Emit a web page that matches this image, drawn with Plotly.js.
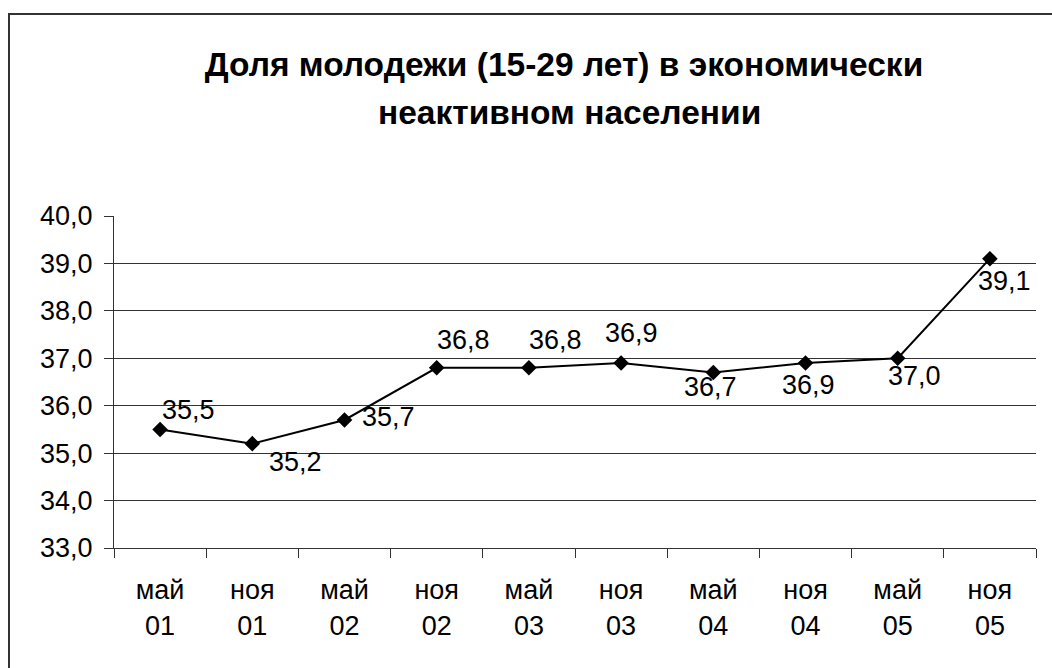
<!DOCTYPE html>
<html><head><meta charset="utf-8">
<script src="https://cdn.plot.ly/plotly-3.0.1.min.js"></script>
<style>
html,body{margin:0;padding:0;background:#fff;}
#wrap{position:relative;width:1052px;height:668px;overflow:hidden;}
#chart{width:1052px;height:668px;}
#frame{position:absolute;left:8px;top:13px;width:1200px;height:800px;border-left:2px solid #333;border-top:2px solid #333;pointer-events:none;}
</style></head>
<body><div id="wrap"><div id="chart"></div><div id="frame"></div></div>
<script>
var months = ["май","ноя","май","ноя","май","ноя","май","ноя","май","ноя"];
var years = ["01","01","02","02","03","03","04","04","05","05"];
var values = [35.5, 35.2, 35.7, 36.8, 36.8, 36.9, 36.7, 36.9, 37.0, 39.1];
var titleLine1 = "Доля молодежи (15-29 лет) в экономически";
var titleLine2 = "неактивном населении";

var categories = months.map(function(m,i){return m + "<br>" + years[i];});
var labels = values.map(function(v){return v.toFixed(1).replace(".", ",");});
// label offsets in pixels (styling only)
var labelDx = [28, 43, 44, 27, 27, 10, -3, 3, 17, 15];
var labelDy = [-18, 19, -2, -27, -27, -29, 15, 23, 19, 23];

var FONT = "Liberation Sans, Arial, sans-serif";
var trace = {
  type: "scatter",
  mode: "lines+markers",
  x: categories,
  y: values,
  line: {color: "#000", width: 2},
  marker: {symbol: "diamond", size: 12, color: "#000"},
  cliponaxis: false,
  hoverinfo: "skip"
};
var labelAnns = values.map(function(v, i){
  return {x: categories[i], y: v, xref: "x", yref: "y", text: labels[i], showarrow: false,
    xanchor: "center", yanchor: "middle", xshift: labelDx[i], yshift: -labelDy[i] + 1,
    font: {family: FONT, size: 27, color: "#000"}};
});
var layout = {
  width: 1052, height: 668,
  paper_bgcolor: "#fff", plot_bgcolor: "#fff",
  margin: {l: 114, r: 16, t: 216, b: 120},
  showlegend: false,
  separators: ", ",
  font: {family: FONT, size: 27, color: "#000"},
  title: {text: "<b>" + titleLine1 + "</b>", font: {family: FONT, size: 33.5, color: "#000"},
          x: 564 / 1052, xanchor: "center", y: 1 - 64 / 668, yanchor: "middle"},
  annotations: [{text: "<b>" + titleLine2 + "</b>", xref: "paper", yref: "paper",
     x: (569 - 114) / 922, y: 1 + (216 - 113) / 332, xanchor: "center", yanchor: "middle", showarrow: false,
     font: {family: FONT, size: 33.5, color: "#000"}}].concat(labelAnns),
  xaxis: {
    type: "category",
    range: [-0.5, categories.length - 0.5],
    tickson: "boundaries",
    ticks: "outside", ticklen: 9, tickcolor: "#333", tickwidth: 1,
    showline: true, linecolor: "#333", linewidth: 1,
    showgrid: false, zeroline: false,
    tickfont: {family: FONT, size: 27, color: "#000"},
    ticklabelstandoff: 18,
    fixedrange: true
  },
  yaxis: {
    range: [33, 40], dtick: 1, tick0: 33,
    tickformat: ".1f",
    ticks: "outside", ticklen: 9, tickcolor: "#333", tickwidth: 1,
    showline: true, linecolor: "#333", linewidth: 1,
    showgrid: true, gridcolor: "#333", gridwidth: 1,
    zeroline: false,
    tickfont: {family: FONT, size: 27, color: "#000"},
    ticklabelstandoff: 6,
    fixedrange: true
  }
};
Plotly.newPlot("chart", [trace], layout, {staticPlot: true, displayModeBar: false});
</script>
</body></html>
